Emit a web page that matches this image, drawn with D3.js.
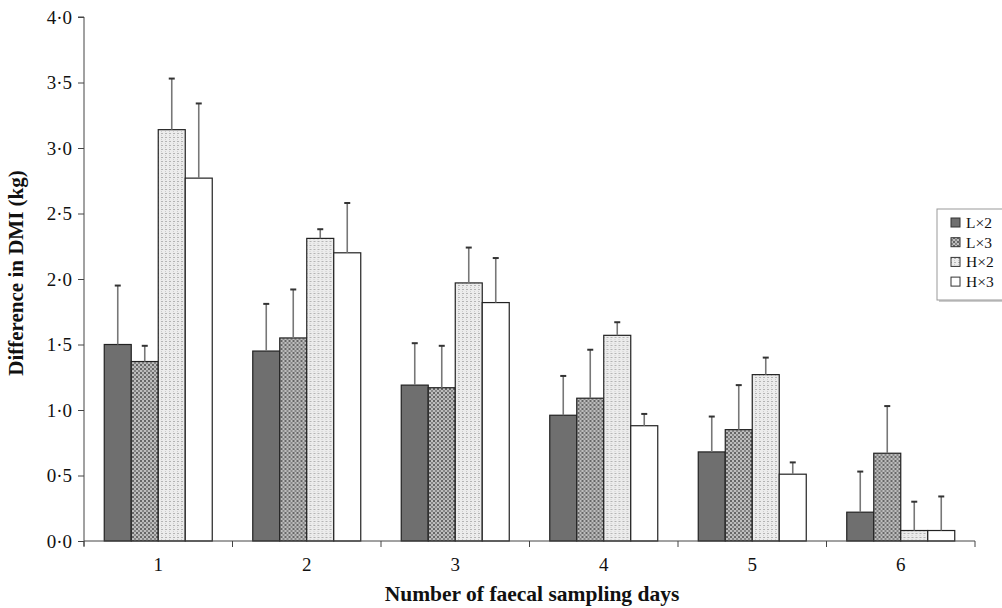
<!DOCTYPE html>
<html lang="en">
<head>
  <meta charset="UTF-8">
  <title>Difference in DMI</title>
  <script src="https://d3js.org/d3.v7.min.js"></script>
  <style>
    body { margin: 0; padding: 0; background: #fff; }
    svg { display: block; }
    svg text { font-family: "Liberation Serif", "Times New Roman", serif; }
  </style>
</head>
<body>
  <svg id="chart"></svg>
  <script>
    const days = ["1", "2", "3", "4", "5", "6"];
    const seriesNames = ["L×2", "L×3", "H×2", "H×3"];
    const meanL2 = [1.50, 1.45, 1.19, 0.96, 0.68, 0.22];
    const meanL3 = [1.37, 1.55, 1.17, 1.09, 0.85, 0.67];
    const meanH2 = [3.14, 2.31, 1.97, 1.57, 1.27, 0.08];
    const meanH3 = [2.77, 2.20, 1.82, 0.88, 0.51, 0.08];
    const errTopL2 = [1.95, 1.81, 1.51, 1.26, 0.95, 0.53];
    const errTopL3 = [1.49, 1.92, 1.49, 1.46, 1.19, 1.03];
    const errTopH2 = [3.53, 2.38, 2.24, 1.67, 1.40, 0.30];
    const errTopH3 = [3.34, 2.58, 2.16, 0.97, 0.60, 0.34];
    const yTicks = [0, 0.5, 1, 1.5, 2, 2.5, 3, 3.5, 4];

    const means = [meanL2, meanL3, meanH2, meanH3];
    const errTops = [errTopL2, errTopL3, errTopH2, errTopH3];
    const fills = ["#6f6f6f", "url(#patL3)", "url(#patH2)", "#ffffff"];

    const width = 1002, height = 608;
    const margin = { top: 17, right: 27, bottom: 67, left: 84 };

    const svg = d3.select("#chart")
      .attr("width", width)
      .attr("height", height);

    const defs = svg.append("defs");
    const p1 = defs.append("pattern")
      .attr("id", "patL3").attr("patternUnits", "userSpaceOnUse")
      .attr("width", 4).attr("height", 4);
    p1.append("rect").attr("width", 4).attr("height", 4).attr("fill", "#bdbdbd");
    p1.append("rect").attr("x", 0).attr("y", 0).attr("width", 2).attr("height", 2).attr("fill", "#666");
    p1.append("rect").attr("x", 2).attr("y", 2).attr("width", 2).attr("height", 2).attr("fill", "#858585");

    const p2 = defs.append("pattern")
      .attr("id", "patH2").attr("patternUnits", "userSpaceOnUse")
      .attr("width", 4).attr("height", 4);
    p2.append("rect").attr("width", 4).attr("height", 4).attr("fill", "#ececec");
    p2.append("rect").attr("x", 1).attr("y", 1).attr("width", 2).attr("height", 1).attr("fill", "#b4b4b4");
    p2.append("rect").attr("x", 1).attr("y", 3).attr("width", 1).attr("height", 1).attr("fill", "#cccccc");

    const x0 = d3.scaleBand()
      .domain(days)
      .range([margin.left, width - margin.right]);

    const x1 = d3.scaleBand()
      .domain(seriesNames)
      .range([0, x0.bandwidth()])
      .paddingOuter(0.75);

    const y = d3.scaleLinear()
      .domain([0, 4])
      .range([height - margin.bottom, margin.top]);

    // y axis
    const yAxis = svg.append("g")
      .attr("transform", `translate(${margin.left},0)`)
      .call(d3.axisLeft(y).tickValues(yTicks).tickSize(6).tickPadding(6)
        .tickFormat(d => d3.format(".1f")(d).replace(".", "·")));
    yAxis.attr("font-family", null);
    yAxis.select(".domain").attr("stroke", "#444").attr("d", `M-6,${y(4)}H0V${y(0) + 5}`);
    yAxis.selectAll(".tick line").attr("stroke", "#444");
    yAxis.selectAll("text").attr("font-size", 19).attr("fill", "#111");

    // bars
    const groups = svg.append("g")
      .selectAll("g")
      .data(days)
      .join("g")
      .attr("transform", d => `translate(${x0(d)},0)`);

    seriesNames.forEach((s, si) => {
      groups.append("rect")
        .attr("x", x1(s))
        .attr("y", (d, i) => y(means[si][i]))
        .attr("width", x1.bandwidth())
        .attr("height", (d, i) => y(0) - y(means[si][i]))
        .attr("fill", fills[si])
        .attr("stroke", "#222")
        .attr("stroke-width", 1.2);

      groups.append("line")
        .attr("x1", x1(s) + x1.bandwidth() / 2)
        .attr("x2", x1(s) + x1.bandwidth() / 2)
        .attr("y1", (d, i) => y(means[si][i]))
        .attr("y2", (d, i) => y(errTops[si][i]))
        .attr("stroke", "#777")
        .attr("stroke-width", 1.6);

      groups.append("line")
        .attr("x1", x1(s) + x1.bandwidth() / 2 - 3)
        .attr("x2", x1(s) + x1.bandwidth() / 2 + 3)
        .attr("y1", (d, i) => y(errTops[si][i]))
        .attr("y2", (d, i) => y(errTops[si][i]))
        .attr("stroke", "#333")
        .attr("stroke-width", 2);
    });

    // x axis
    const xAxis = svg.append("g")
      .attr("transform", `translate(0,${y(0)})`);
    xAxis.append("line")
      .attr("x1", margin.left).attr("x2", x0.range()[1])
      .attr("stroke", "#444");
    xAxis.selectAll(".sep")
      .data(days.concat(["end"]))
      .join("line")
      .attr("x1", (d, i) => i < days.length ? x0(d) : x0.range()[1])
      .attr("x2", (d, i) => i < days.length ? x0(d) : x0.range()[1])
      .attr("y1", 0).attr("y2", 6)
      .attr("stroke", "#444");
    xAxis.selectAll("text")
      .data(days)
      .join("text")
      .attr("x", d => x0(d) + x0.bandwidth() / 2)
      .attr("y", 30)
      .attr("text-anchor", "middle")
      .attr("font-size", 19)
      .attr("fill", "#111")
      .text(d => d);

    // axis titles
    svg.append("text")
      .attr("x", 532)
      .attr("y", 601)
      .attr("text-anchor", "middle")
      .attr("font-size", 21.5)
      .attr("font-weight", "bold")
      .attr("fill", "#111")
      .text("Number of faecal sampling days");

    svg.append("text")
      .attr("transform", "translate(23,273) rotate(-90)")
      .attr("text-anchor", "middle")
      .attr("font-size", 21)
      .attr("font-weight", "bold")
      .attr("fill", "#111")
      .text("Difference in DMI (kg)");

    // legend
    const legend = svg.append("g").attr("transform", "translate(937,209)");
    legend.append("rect")
      .attr("x", 2).attr("y", 2).attr("width", 80).attr("height", 91)
      .attr("fill", "#ccc");
    legend.append("rect")
      .attr("x", 0).attr("y", 0).attr("width", 80).attr("height", 91)
      .attr("fill", "#fff").attr("stroke", "#999");
    seriesNames.forEach((s, si) => {
      legend.append("rect")
        .attr("x", 14).attr("y", 9 + si * 19.7)
        .attr("width", 9).attr("height", 9)
        .attr("fill", fills[si]).attr("stroke", "#333");
      legend.append("text")
        .attr("x", 29).attr("y", 19 + si * 19.7)
        .attr("font-size", 15.5)
        .attr("fill", "#111")
        .text(s);
    });
  </script>
</body>
</html>
